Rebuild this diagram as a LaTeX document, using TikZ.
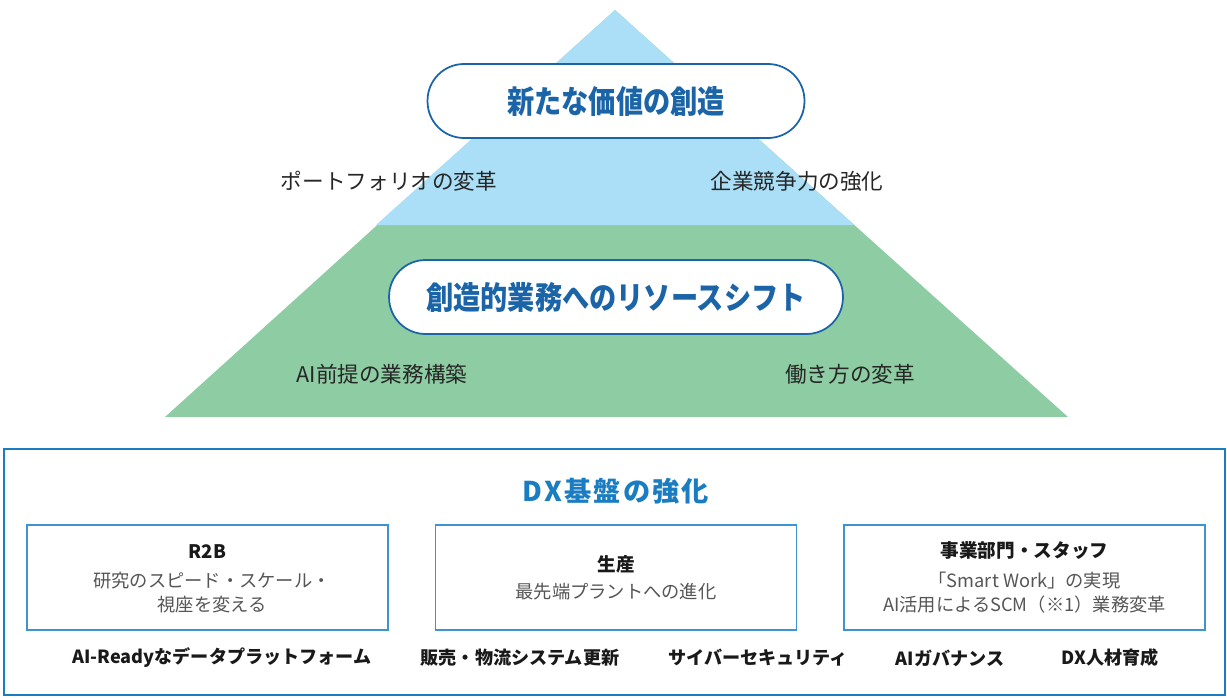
\documentclass[tikz,border=0pt]{standalone}
\usepackage{fontspec}
\setmainfont{Noto Sans CJK JP}
\usetikzlibrary{positioning}
\definecolor{cielo}{HTML}{AADFF7}
\definecolor{verde}{HTML}{8ECDA3}
\definecolor{bluscuro}{HTML}{1B64A8}
\definecolor{blutitolo}{HTML}{1A7DC2}
\definecolor{bordo}{HTML}{3D93D3}
\definecolor{grigio}{HTML}{555555}

\newcommand{\stretto}[1]{\scalebox{0.86}[1]{#1}}

\tikzset{
  pill/.style={draw=bluscuro, line width=1pt, fill=white, rounded corners=0.73cm,
    minimum height=1.48cm, text=bluscuro, font=\fontsize{18}{20}\selectfont\bfseries},
  etichetta/.style={text=black!85, font=\fontsize{12.3}{14}\selectfont},
  riquadro/.style={draw=bordo, line width=0.9pt, minimum width=7.22cm, minimum height=2.1cm},
  testa/.style={text=black!90, font=\fontsize{10.6}{12}\selectfont\bfseries},
  corpo/.style={text=grigio, align=center, font=\fontsize{10.4}{13.6}\selectfont},
  voce/.style={text=black!90, font=\fontsize{10.3}{12}\selectfont\bfseries}
}

\begin{document}
\begin{tikzpicture}[x=0.02cm, y=-0.02cm]
  \useasboundingbox (0,0) rectangle (1227,697);

  % piramide
  \fill[verde] (615,10) -- (1068,417) -- (165,417) -- cycle;
  \fill[cielo] (615,10) -- (854,225) -- (376,225) -- cycle;

  % livelli
  \node[pill, minimum width=7.54cm] (valore) at (616,101) {\stretto{新たな価値の創造}};
  \node[pill, minimum width=9.08cm] (shift) at (616,297) {\stretto{創造的業務へのリソースシフト}};

  \node[etichetta] (portafoglio) at (389,181) {ポートフォリオの変革};
  \node[etichetta] (competitivita) at (797,181) {企業競争力の強化};
  \node[etichetta] (aiprassi) at (382,374) {AI前提の業務構築};
  \node[etichetta] (lavoro) at (850,374) {働き方の変革};

  % base DX
  \draw[blutitolo, line width=0.7pt] (4,449) rectangle (1225,695);
  \node[text=blutitolo, font=\fontsize{15.5}{18}\selectfont\bfseries] (dx) at (616,491)
    {\addfontfeature{LetterSpace=8}DX基盤の強化};

  \node[riquadro] (r2b) at (207.5,577.5) {};
  \node[riquadro] (prod) at (616,577.5) {};
  \node[riquadro] (staff) at (1024.5,577.5) {};

  \node[testa] (r2bt) at (207.5,552) {R2B};
  \node[corpo] (r2bc) at (212,593) {研究のスピード・スケール・\\視座を変える};
  \node[testa] (prodt) at (616,564) {生産};
  \node[corpo] (prodc) at (616,592) {最先端プラントへの進化};
  \node[testa] (stafft) at (1024.5,550) {事業部門・スタッフ};
  \node[corpo] (staffc) at (1024.5,593) {「Smart Work」の実現\\AI活用によるSCM（※1）業務変革};

  % voci in basso
  \node[voce] (dati) at (222,658) {AI-Readyなデータプラットフォーム};
  \node[voce] (vendite) at (520,658) {販売・物流システム更新};
  \node[voce] (cyber) at (758,658) {サイバーセキュリティ};
  \node[voce] (aigov) at (950,658) {AIガバナンス};
  \node[voce] (talenti) at (1110,658) {DX人材育成};
\end{tikzpicture}
\end{document}
